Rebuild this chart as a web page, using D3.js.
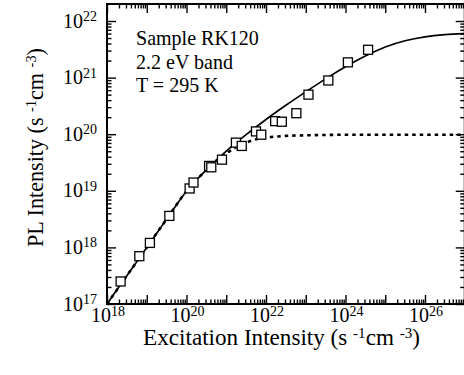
<!DOCTYPE html>
<html><head><meta charset="utf-8">
<script src="https://cdn.jsdelivr.net/npm/d3@7"></script>
<style>
body{margin:0;background:#fff}
svg{display:block}
text{font-family:"Liberation Serif","Times New Roman",serif;fill:#000}
</style>
</head><body>
<svg id="c" width="464" height="375"></svg>
<script>
// ---- data ----
const excitation = [2.2e18, 6.5e18, 1.2e19, 3.7e19, 1.2e20, 1.5e20, 3.7e20, 4.2e20, 7.8e20,
  1.75e21, 2.45e21, 5.6e21, 7.6e21, 1.7e22, 2.5e22, 5.8e22, 1.17e23, 3.7e23, 1.15e24, 3.7e24];
const plIntensity = [2.5e17, 7.0e17, 1.2e18, 3.6e18, 1.1e19, 1.4e19, 2.75e19, 2.6e19, 3.55e19,
  7.1e19, 6.2e19, 1.12e20, 9.8e19, 1.7e20, 1.66e20, 2.35e20, 5.0e20, 8.9e20, 1.86e21, 3.1e21];

const fitX = [1e18, 3.16e18, 1e19, 3.16e19, 1e20, 1.78e20, 3.16e20, 1e21, 3.16e21, 1e22, 3.16e22,
  1e23, 3.16e23, 1e24, 3.16e24, 1e25, 3.16e25, 1e26, 3.16e26, 1e27];
const fitSolid = [1.0e17, 3.16e17, 1.0e18, 3.16e18, 9.8e18, 1.55e19, 2.34e19, 5.0e19, 9.8e19, 1.82e20, 3.24e20,
  5.6e20, 9.5e20, 1.55e21, 2.4e21, 3.47e21, 4.47e21, 5.25e21, 5.75e21, 6.0e21];

const fitDottedX = [1e18, 3.16e18, 1e19, 3.16e19, 1e20, 1.78e20, 3.16e20, 5.62e20, 1e21, 1.78e21, 3.16e21,
  5.62e21, 1e22, 3.16e22, 1e23, 1e24, 1e27];
const fitDotted = [1.0e17, 3.16e17, 1.0e18, 3.16e18, 9.8e18, 1.55e19, 2.34e19, 3.39e19, 4.57e19, 5.89e19, 7.08e19,
  8.13e19, 8.71e19, 9.33e19, 9.55e19, 9.77e19, 9.77e19];

const xLabelExps = [18, 20, 22, 24, 26];
const yLabelExps = [17, 18, 19, 20, 21, 22];
const annotation = ["Sample RK120", "2.2 eV band", "T = 295 K"];
const xTitle = ["Excitation Intensity (s ", "-1", "cm ", "-3", ")"];
const yTitle = ["PL Intensity (s ", "-1", "cm ", "-3", ")"];

// ---- layout ----
const svg = d3.select("#c");
const L = 107, R = 464.75, T = 4, B = 304;
const x = d3.scaleLog().domain([1e18, 1e27]).range([L, R]);
const y = d3.scaleLog().domain([1e17, 1e22]).range([B, 21]);

svg.append("defs").append("clipPath").attr("id", "clip")
  .append("rect").attr("x", L).attr("y", T).attr("width", R - L).attr("height", B - T);

function logTicks(a, b) {
  const major = [], minor = [];
  for (let e = a; e <= b; e++) {
    major.push(Math.pow(10, e));
    if (e < b) for (let m = 2; m <= 9; m++) minor.push(m * Math.pow(10, e));
  }
  return {major, minor};
}
const xt = logTicks(18, 27);
const yt = logTicks(17, 22);
yt.minor.push(2e22);

const MAJ = 9, MIN = 4.5;
function axisGroup(axisFn, scale, vals, size, tx, ty) {
  const g = svg.append("g").attr("transform", `translate(${tx},${ty})`)
    .call(axisFn(scale).tickValues(vals).tickSize(size).tickFormat(""));
  g.select(".domain").remove();
  g.selectAll(".tick line").attr("stroke", "#000").attr("stroke-width", 1.4);
  return g;
}
axisGroup(d3.axisBottom, x, xt.major, -MAJ, 0, B);
axisGroup(d3.axisBottom, x, xt.minor, -MIN, 0, B);
axisGroup(d3.axisTop, x, xt.major, -MAJ, 0, T);
axisGroup(d3.axisTop, x, xt.minor, -MIN, 0, T);
axisGroup(d3.axisLeft, y, yt.major, -MAJ, L, 0);
axisGroup(d3.axisLeft, y, yt.minor.filter(v => y(v) > T), -MIN, L, 0);
axisGroup(d3.axisRight, y, yt.major, -MAJ, R, 0);
axisGroup(d3.axisRight, y, yt.minor.filter(v => y(v) > T), -MIN, R, 0);

svg.append("rect").attr("x", L).attr("y", T).attr("width", R - L).attr("height", B - T)
  .attr("fill", "none").attr("stroke", "#000").attr("stroke-width", 2);

// tick labels
function powLabel(xp, yp, e, anchor) {
  const t = svg.append("text").attr("x", xp).attr("y", yp)
    .attr("text-anchor", anchor).attr("font-size", 20);
  t.append("tspan").text("10");
  t.append("tspan").attr("dy", -6.5).attr("font-size", 14).text(e);
}
xLabelExps.forEach(e => powLabel(x(Math.pow(10, e)) + 1, 322, e, "middle"));
yLabelExps.forEach(e => powLabel(97, y(Math.pow(10, e)) + 6.5, e, "end"));

// titles with superscripts, fitted to the reference width
function titled(parts, attrs, target) {
  const t = svg.append("text").attr("text-anchor", "middle");
  Object.entries(attrs).forEach(([k, v]) => t.attr(k, v));
  function build(fs) {
    t.selectAll("tspan").remove();
    t.attr("font-size", fs);
    parts.forEach((p, i) => {
      const sup = i % 2 === 1;
      const s = t.append("tspan").text(p);
      if (sup) s.attr("font-size", fs * 0.65).attr("dy", -fs * 0.3);
      else if (i > 0) s.attr("dy", fs * 0.3);
    });
  }
  build(20);
  const w = t.node().getComputedTextLength();
  build(20 * target / w);
  return t;
}
titled(xTitle, {x: 281.5, y: 345}, 277);
titled(yTitle, {transform: "translate(43,147.5) rotate(-90)"}, 199);

// curves
const plot = svg.append("g").attr("clip-path", "url(#clip)");
const line = d3.line().x(d => x(d[0])).y(d => y(d[1])).curve(d3.curveMonotoneX);
plot.append("path").datum(d3.zip(fitDottedX, fitDotted)).attr("d", line)
  .attr("fill", "none").attr("stroke", "#000").attr("stroke-width", 2.6).attr("stroke-dasharray", "3.5,4");
plot.append("path").datum(d3.zip(fitX, fitSolid)).attr("d", line)
  .attr("fill", "none").attr("stroke", "#000").attr("stroke-width", 1.7);

const S = 9;
plot.selectAll("rect.pt").data(d3.zip(excitation, plIntensity)).join("rect").attr("class", "pt")
  .attr("x", d => x(d[0]) - S / 2).attr("y", d => y(d[1]) - S / 2)
  .attr("width", S).attr("height", S)
  .attr("fill", "#fff").attr("stroke", "#000").attr("stroke-width", 1.3);

// annotation, sized so "Sample RK120" spans the reference width
const ann = annotation.map((s, i) =>
  svg.append("text").attr("x", 136).attr("y", 45 + i * 23.5).attr("font-size", 20).text(s));
const annFs = 20 * 123 / ann[0].node().getComputedTextLength();
ann.forEach(a => a.attr("font-size", annFs));
</script>
</body></html>
